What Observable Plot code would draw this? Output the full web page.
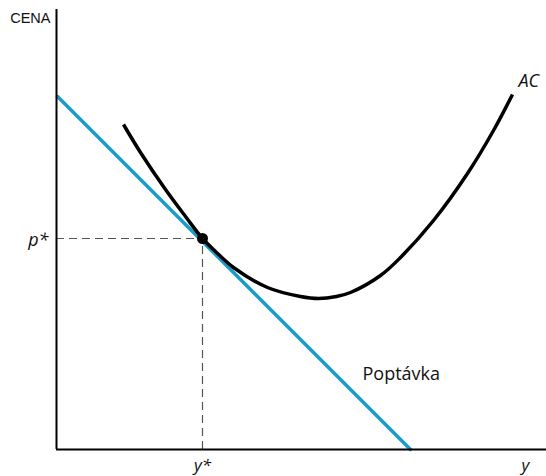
<!DOCTYPE html>
<html>
<head>
<meta charset="utf-8">
<script src="https://cdn.jsdelivr.net/npm/d3@7"></script>
<script src="https://cdn.jsdelivr.net/npm/@observablehq/plot@0.6"></script>
<style>
  html, body { margin: 0; padding: 0; background: #fff; }
  #chart svg { display: block; }
</style>
</head>
<body>
<div id="chart"></div>
<script>
// Quantity (y) and price values in abstract chart units
const demandX = [1, 354];
const demandY = [353, 0];

const acX = [67, 84, 109, 129, 146, 159, 177, 211, 244, 262, 280, 294, 324, 344, 377, 411, 437, 456];
const acY = [325, 297, 260, 233, 211, 198, 182, 162, 153, 151, 153, 157, 174, 192, 229, 276, 319, 355];

const eqX = [146];   // y*
const eqY = [211];   // p*

const labels = [
  {x: -6, y: 431, text: "CENA", anchor: "end", size: 14.5, style: "normal", font: "Liberation Sans"},
  {x: -8, y: 209, text: "p*", anchor: "end", size: 18, style: "italic", font: "Open Sans"},
  {x: 146, y: -16, text: "y*", anchor: "middle", size: 17, style: "italic", font: "Open Sans"},
  {x: 469, y: -16, text: "y", anchor: "middle", size: 17, style: "italic", font: "Open Sans"},
  {x: 462, y: 368, text: "AC", anchor: "start", size: 18, style: "italic", font: "Open Sans"},
  {x: 306, y: 75, text: "Poptávka", anchor: "start", size: 18, style: "normal", font: "Open Sans"}
];

const demand = demandX.map((x, i) => ({x, y: demandY[i]}));
const ac = acX.map((x, i) => ({x, y: acY[i]}));
const eq = eqX.map((x, i) => ({x, y: eqY[i]}));

const chart = Plot.plot({
  width: 546,
  height: 476,
  marginLeft: 56,
  marginRight: 0,
  marginTop: 9,
  marginBottom: 27,
  x: {domain: [0, 490], axis: null},
  y: {domain: [0, 440], axis: null},
  marks: [
    // dashed guides
    Plot.ruleY(eq, {y: "y", x1: 0, x2: "x", stroke: "#555", strokeWidth: 1.2, strokeDasharray: "8,5"}),
    Plot.ruleX(eq, {x: "x", y1: 0, y2: "y", stroke: "#555", strokeWidth: 1.2, strokeDasharray: "8,5"}),
    // demand
    Plot.line(demand, {x: "x", y: "y", stroke: "#1a9cc7", strokeWidth: 3.5}),
    // AC
    Plot.line(ac, {x: "x", y: "y", stroke: "#000", strokeWidth: 3.5, curve: "catmull-rom", strokeLinecap: "butt"}),
    // equilibrium dot
    Plot.dot(eq, {x: "x", y: "y", r: 5.5, fill: "#000"}),
    // axes
    Plot.ruleX([0], {stroke: "#000", strokeWidth: 2}),
    Plot.ruleY([0], {stroke: "#000", strokeWidth: 2}),
    // labels
    ...labels.map(l => Plot.text([l], {
      x: "x", y: "y", text: "text",
      textAnchor: l.anchor, fontSize: l.size, fontStyle: l.style,
      fontFamily: l.font, fill: "#111", lineAnchor: "middle"
    }))
  ]
});
document.getElementById("chart").appendChild(chart);
</script>
</body>
</html>
